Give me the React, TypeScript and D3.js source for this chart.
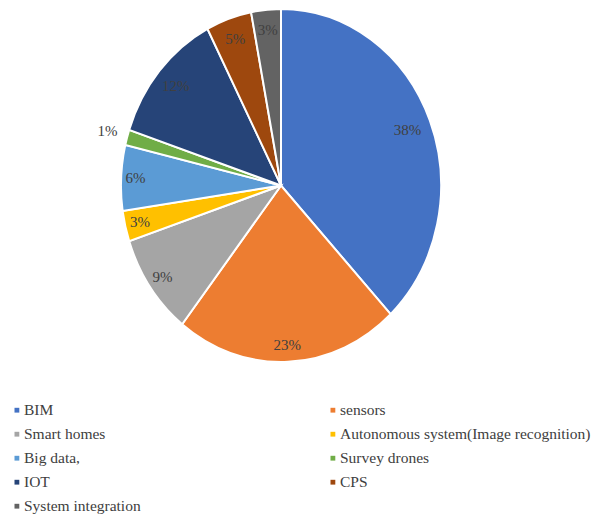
import React from "react";
import * as d3 from "d3";

const categories = [
  "BIM",
  "sensors",
  "Smart homes",
  "Autonomous system(Image recognition)",
  "Big data,",
  "Survey drones",
  "IOT",
  "CPS",
  "System integration",
];
const values = [38.0, 22.6, 9.3, 2.8, 6.0, 1.4, 12.3, 4.6, 3.0];
const pctLabels = ["38%", "23%", "9%", "3%", "6%", "1%", "12%", "5%", "3%"];
const colors = [
  "#4472C4",
  "#ED7D31",
  "#A5A5A5",
  "#FFC000",
  "#5B9BD5",
  "#70AD47",
  "#264478",
  "#9E480E",
  "#636363",
];
// label placement (fraction of radius), layout only
const labelRadius = [0.85, 0.905, 0.905, 0.905, 0.91, 1.127, 0.865, 0.876, 0.883];

const W = 593;
const H = 516;
const cx = 281;
const cy = 185.5;
const rx = 160;
const ry = 176.5;
const FONT = '"Liberation Serif", "Times New Roman", Times, serif';

export default function App() {
  const pie = d3
    .pie<number>()
    .sort(null)
    .value((d) => d);
  const arcs = pie(values);
  const arc = d3.arc<d3.PieArcDatum<number>>().innerRadius(0).outerRadius(1);

  const labelPos = (a: d3.PieArcDatum<number>, i: number) => {
    const k = labelRadius[i];
    const c = d3.arc<d3.PieArcDatum<number>>().innerRadius(k).outerRadius(k).centroid(a);
    return [cx + c[0] * rx, cy + c[1] * ry];
  };

  const legendX = [24, 340];
  const legendTop = 415.3;
  const rowH = 24;

  return (
    <svg
      width={W}
      height={H}
      style={{ position: "absolute", left: 0, top: 0, background: "#fff", fontFamily: FONT }}
    >
      <g transform={`translate(${cx},${cy}) scale(${rx},${ry})`}>
        {arcs.map((a, i) => (
          <path
            key={i}
            d={arc(a) || ""}
            fill={colors[i]}
            stroke="#fff"
            strokeWidth={2}
            vectorEffect="non-scaling-stroke"
          />
        ))}
      </g>
      {arcs.map((a, i) => {
        const [x, y] = labelPos(a, i);
        return (
          <text
            key={i}
            x={x}
            y={y + 5}
            textAnchor="middle"
            fontSize={15}
            fill="#404040"
            style={{ fontFamily: FONT }}
          >
            {pctLabels[i]}
          </text>
        );
      })}
      {categories.map((c, i) => {
        const col = i % 2;
        const row = Math.floor(i / 2);
        const x = legendX[col];
        const y = legendTop + row * rowH;
        return (
          <g key={c}>
            <rect x={x - 9.5} y={y - 7.5} width={4.8} height={4.8} fill={colors[i]} />
            <text x={x} y={y} fontSize={15.5} fill="#404040" style={{ fontFamily: FONT }}>
              {c}
            </text>
          </g>
        );
      })}
    </svg>
  );
}
